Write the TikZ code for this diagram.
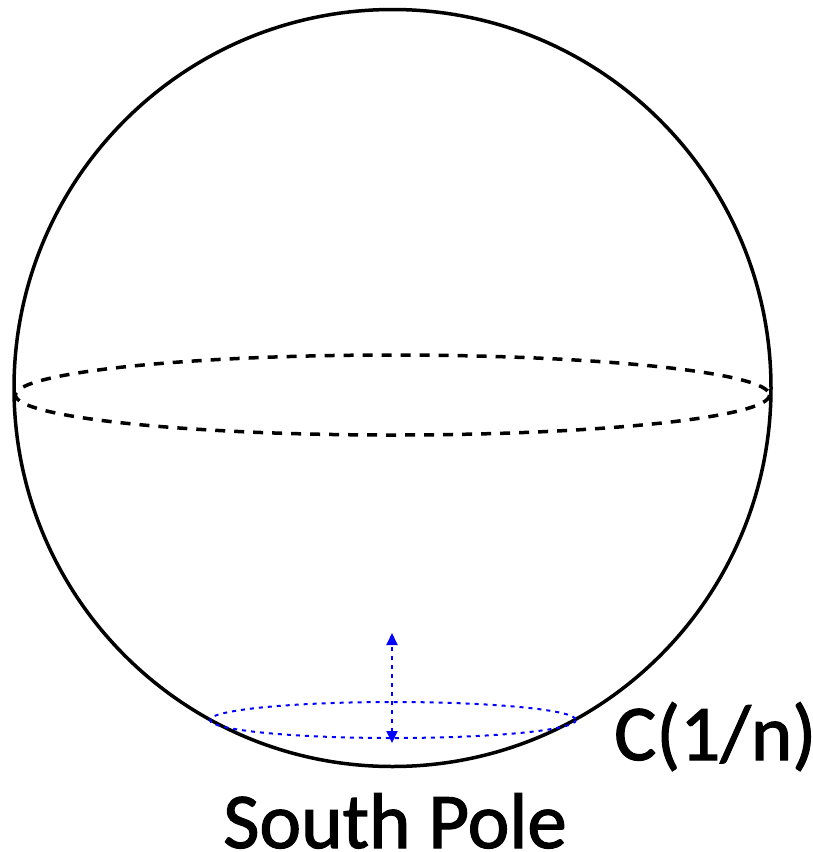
\documentclass[tikz,border=0pt]{standalone}
\usepackage{fontspec}
\setmainfont{Carlito}
\newfontfamily\labelfont[FakeBold=1.5]{Carlito}
\usetikzlibrary{arrows.meta}
\begin{document}
\begin{tikzpicture}[x=1pt,y=-1pt,
  sphere/.style={line width=3.5pt,black},
  equator/.style={line width=3.5pt,black,dash pattern=on 10pt off 9pt},
  capring/.style={line width=2pt,blue,dash pattern=on 4pt off 5pt},
  capArrow/.style={line width=2pt,blue,dash pattern=on 4pt off 5pt,{Triangle[length=12pt,width=11pt]}-{Triangle[length=12pt,width=11pt]}},
  label/.style={font=\labelfont\fontsize{79}{90}\selectfont,inner sep=0pt}]
\useasboundingbox (0,0) rectangle (812,852);
\draw[sphere] (392.5,388) circle [radius=378.5];
\draw[equator] (392.5,395) ellipse [x radius=377, y radius=40];
\draw[capring] (393,720) ellipse [x radius=183, y radius=18];
\coordinate (top) at (392,633);
\coordinate (bot) at (392,743);
\draw[capArrow] (bot) -- (top);
\node[label,anchor=base west] (cn) at (614,760) {C(1/n)};
\node[label,anchor=base] (sp) at (395,848) {South Pole};
\end{tikzpicture}
\end{document}
